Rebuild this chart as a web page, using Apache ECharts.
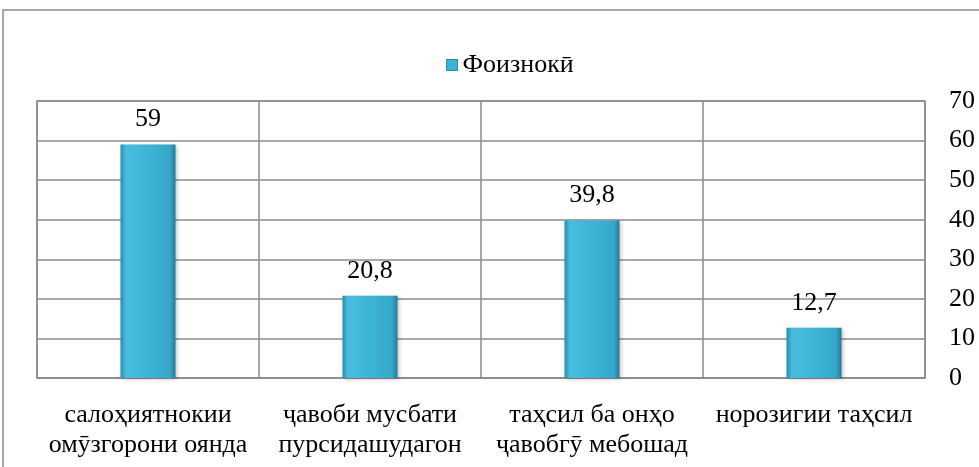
<!DOCTYPE html>
<html><head><meta charset="utf-8">
<script src="https://cdn.jsdelivr.net/npm/echarts@6/dist/echarts.min.js"></script>
<style>html,body{margin:0;padding:0;background:#fff}#c{width:979px;height:467px}</style>
</head><body><div id="c"></div>
<script>
const categories = ['салоҳиятнокии\nомӯзгорони оянда', 'ҷавоби мусбати\nпурсидашудагон', 'таҳсил ба онҳо\nҷавобгӯ мебошад', 'норозигии таҳсил'];
const seriesName = 'Фоизнокӣ';
const values = [59, 20.8, 39.8, 12.7];
const yTicks = { min: 0, max: 70, interval: 10 };

const font = '"Liberation Serif", "Times New Roman", serif';
const chart = echarts.init(document.getElementById('c'), null, { renderer: 'canvas' });
const barColor = new echarts.graphic.LinearGradient(0, 0, 1, 0, [
  { offset: 0, color: '#2a8cab' },
  { offset: 0.1, color: '#48bde0' },
  { offset: 0.5, color: '#3db4d7' },
  { offset: 0.9, color: '#36a7c9' },
  { offset: 1, color: '#23799a' }
]);
chart.setOption({
  animation: false,
  graphic: [{
    type: 'rect', shape: { x: 3, y: 10, width: 1100, height: 600 },
    style: { fill: 'none', stroke: '#8c8c8c', lineWidth: 1.5 }, z: -1
  }],
  legend: {
    top: 47, left: 441, itemWidth: 11, itemHeight: 11, itemGap: 3,
    textStyle: { fontFamily: font, fontSize: 26, color: '#000' },
    data: [{ name: seriesName, icon: 'rect', itemStyle: { color: '#3db4d7', borderColor: '#2a8cab', borderWidth: 1 } }]
  },
  grid: { left: 37, right: 54, top: 101, bottom: 89, show: true, borderColor: '#8c8c8c', borderWidth: 1.5 },
  xAxis: {
    type: 'category', data: categories,
    axisLine: { show: true, lineStyle: { color: '#8c8c8c', width: 1.5 } },
    axisTick: { show: false },
    splitLine: { show: true, lineStyle: { color: '#8c8c8c', width: 1.5 } },
    axisLabel: { interval: 0, fontFamily: font, fontSize: 26, color: '#000', lineHeight: 30, margin: 22 }
  },
  yAxis: {
    type: 'value', position: 'right', min: yTicks.min, max: yTicks.max, interval: yTicks.interval,
    axisLine: { show: false }, axisTick: { show: false },
    splitLine: { show: true, lineStyle: { color: '#8c8c8c', width: 1.5 } },
    axisLabel: { fontFamily: font, fontSize: 26, color: '#000', margin: 24, verticalAlign: 'middle', padding: [0, 0, 6, 0] }
  },
  series: [{
    name: seriesName, type: 'bar', data: values, barWidth: 55,
    itemStyle: { color: barColor, shadowColor: 'rgba(0,0,0,0.25)', shadowBlur: 4, shadowOffsetX: 1, shadowOffsetY: 1 },
    label: {
      show: true, position: 'top', distance: 12, fontFamily: font, fontSize: 26, color: '#000',
      formatter: p => String(p.value).replace('.', ',')
    }
  }]
});
</script></body></html>
